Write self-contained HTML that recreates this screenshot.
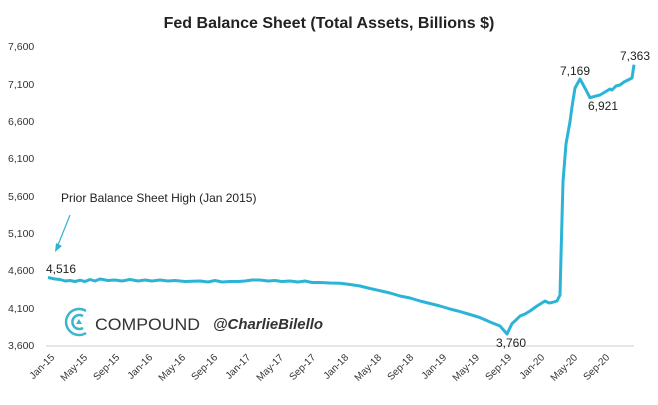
<!DOCTYPE html><html><head><style>body{margin:0;background:#fff}svg{font-family:"Liberation Sans",sans-serif}</style></head><body>
<svg width="658" height="400" viewBox="0 0 658 400">
<text x="329" y="28" text-anchor="middle" font-size="16" font-weight="bold" fill="#222">Fed Balance Sheet (Total Assets, Billions $)</text>
<g font-size="10.5" fill="#333">
<text x="8" y="50">7,600</text><text x="8" y="88">7,100</text><text x="8" y="125">6,600</text><text x="8" y="162">6,100</text><text x="8" y="200">5,600</text><text x="8" y="237">5,100</text><text x="8" y="274">4,600</text><text x="8" y="312">4,100</text><text x="8" y="349">3,600</text>
</g>
<line x1="46" y1="346" x2="634" y2="346" stroke="#ccc" stroke-width="1"/>
<g font-size="10" fill="#333">
<text transform="translate(55,358) rotate(-45)" text-anchor="end">Jan-15</text>
<text transform="translate(88,358) rotate(-45)" text-anchor="end">May-15</text>
<text transform="translate(120,358) rotate(-45)" text-anchor="end">Sep-15</text>
<text transform="translate(153,358) rotate(-45)" text-anchor="end">Jan-16</text>
<text transform="translate(186,358) rotate(-45)" text-anchor="end">May-16</text>
<text transform="translate(218,358) rotate(-45)" text-anchor="end">Sep-16</text>
<text transform="translate(251,358) rotate(-45)" text-anchor="end">Jan-17</text>
<text transform="translate(284,358) rotate(-45)" text-anchor="end">May-17</text>
<text transform="translate(316,358) rotate(-45)" text-anchor="end">Sep-17</text>
<text transform="translate(349,358) rotate(-45)" text-anchor="end">Jan-18</text>
<text transform="translate(382,358) rotate(-45)" text-anchor="end">May-18</text>
<text transform="translate(414,358) rotate(-45)" text-anchor="end">Sep-18</text>
<text transform="translate(447,358) rotate(-45)" text-anchor="end">Jan-19</text>
<text transform="translate(480,358) rotate(-45)" text-anchor="end">May-19</text>
<text transform="translate(512,358) rotate(-45)" text-anchor="end">Sep-19</text>
<text transform="translate(545,358) rotate(-45)" text-anchor="end">Jan-20</text>
<text transform="translate(578,358) rotate(-45)" text-anchor="end">May-20</text>
<text transform="translate(610,358) rotate(-45)" text-anchor="end">Sep-20</text>
</g>
<polyline fill="none" stroke="#2cb4d6" stroke-width="3" stroke-linejoin="round" points="48,277.5 55,279 60,279.5 65,281 70,280.5 75,281.5 80,280.2 85,281.5 90,279.5 95,281 100,279 108,280.5 115,280 122,281 130,279.5 138,281 145,280 152,281 160,280 168,281 175,280.5 185,281.5 200,281 208,282 215,280.5 222,282 230,281.5 238,281.5 245,281 252,280 260,280 268,281 275,280.5 282,281.5 290,281 298,282 305,281 312,282.5 320,282.5 330,283 340,283.2 350,284.5 360,286 370,288.5 380,290.7 390,293 400,296 410,298 420,301 430,303.5 440,306 450,309 460,311.6 470,314.5 480,317.6 490,322 500,326 507,334 512,323.6 516,320 520,316 525,314 530,311 537,306 545,301 549,303 552,302.5 557,301 560,295 561,256 563,181.5 566,144 570,121.7 572,106.8 575,88 580,79 586,90 590,97.7 596,96 600,95 605,92 610,89 612,90 616,86 620,85 624,82 628,80 632,78 634,64.7"/>
<g font-size="12" fill="#222">
<text x="46" y="273">4,516</text>
<text x="496" y="347">3,760</text>
<text x="560" y="75">7,169</text>
<text x="588" y="110">6,921</text>
<text x="620" y="60">7,363</text>
<text x="61" y="202">Prior Balance Sheet High (Jan 2015)</text>
</g>
<line x1="70" y1="215" x2="58" y2="245" stroke="#2cb4d6" stroke-width="1.2"/>
<polygon points="55,252 56,243 62,246" fill="#2cb4d6"/>
<g fill="none" stroke="#3bb6cc" stroke-width="2.5">
<path d="M86,311 A13,13 0 1 0 86,333"/>
<path d="M83,316 A7,7 0 1 0 83,328"/>
</g>
<polygon points="76,324 79,319 82,324" fill="#3bb6cc"/>
<text x="95" y="330" font-size="17" fill="#333" textLength="105" lengthAdjust="spacingAndGlyphs">COMPOUND</text>
<text x="213" y="329" font-size="15" font-weight="bold" font-style="italic" fill="#333" textLength="110" lengthAdjust="spacingAndGlyphs">@CharlieBilello</text>
</svg>
</body></html>
